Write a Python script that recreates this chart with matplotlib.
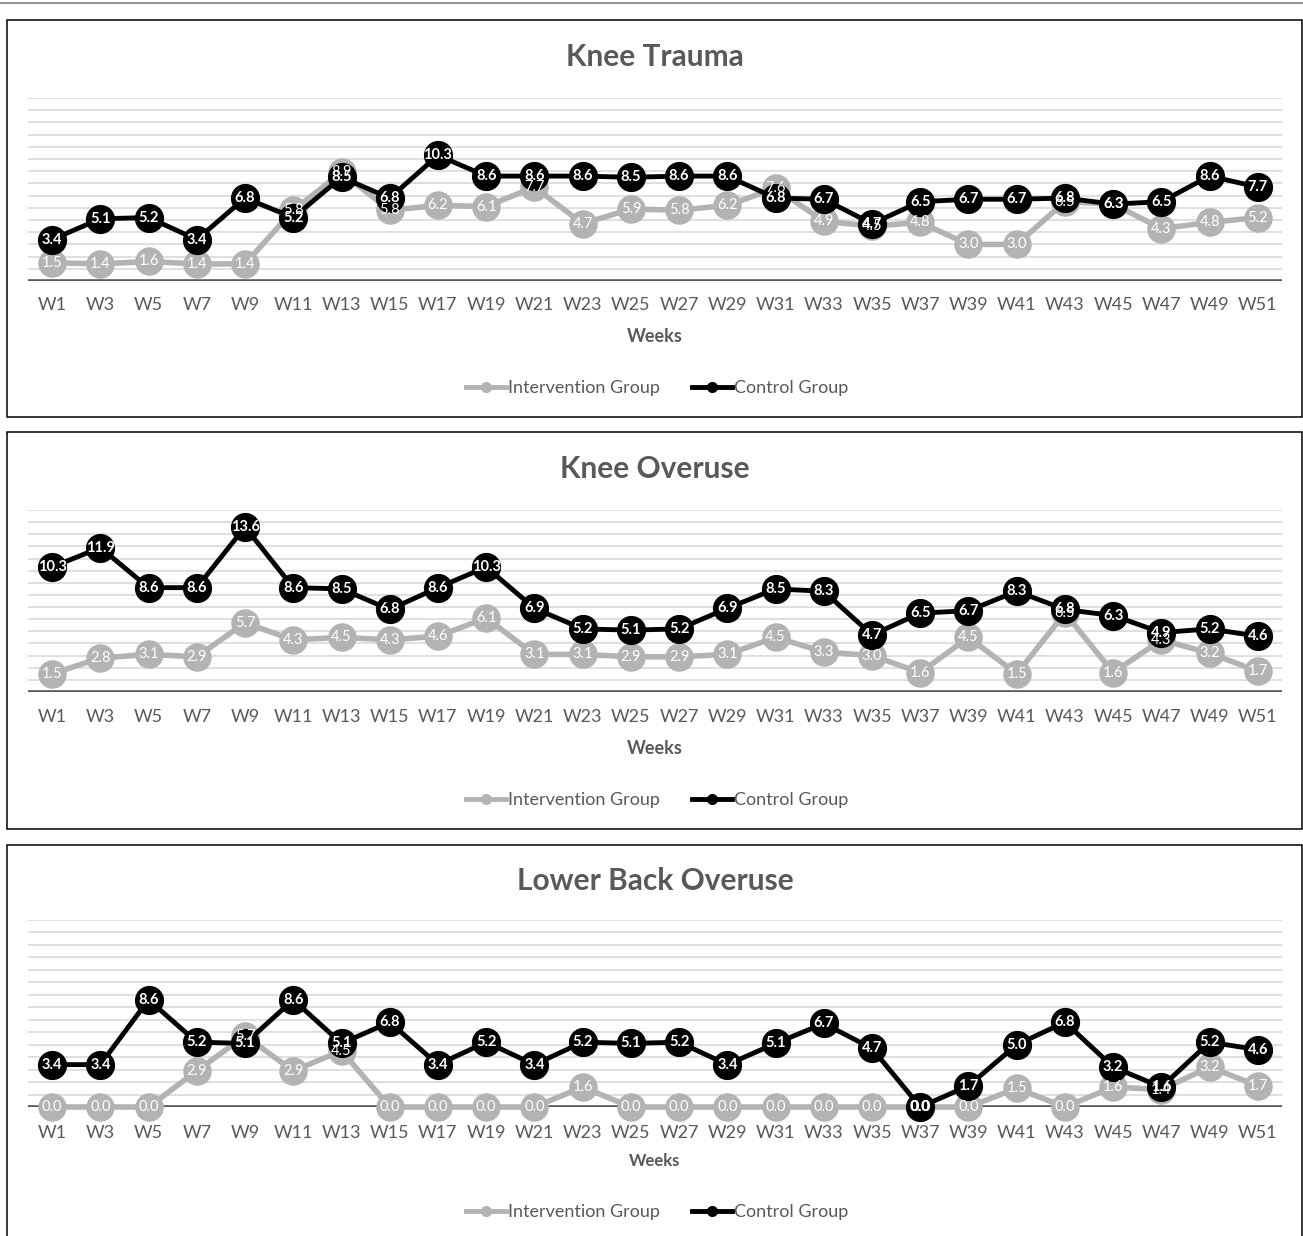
import matplotlib
matplotlib.use("Agg")
from matplotlib import pyplot as plt
from matplotlib.lines import Line2D
from matplotlib.patches import Rectangle

weeks = ["W%d" % w for w in range(1, 52, 2)]

trauma_intervention = [1.5, 1.4, 1.6, 1.4, 1.4, 5.8, 8.9, 5.8, 6.2, 6.1, 7.7, 4.7, 5.9,
                       5.8, 6.2, 7.6, 4.9, 4.5, 4.8, 3.0, 3.0, 6.5, 6.3, 4.3, 4.8, 5.2]
trauma_control = [3.4, 5.1, 5.2, 3.4, 6.8, 5.2, 8.5, 6.8, 10.3, 8.6, 8.6, 8.6, 8.5,
                  8.6, 8.6, 6.8, 6.7, 4.7, 6.5, 6.7, 6.7, 6.8, 6.3, 6.5, 8.6, 7.7]

overuse_intervention = [1.5, 2.8, 3.1, 2.9, 5.7, 4.3, 4.5, 4.3, 4.6, 6.1, 3.1, 3.1, 2.9,
                        2.9, 3.1, 4.5, 3.3, 3.0, 1.6, 4.5, 1.5, 6.5, 1.6, 4.3, 3.2, 1.7]
overuse_control = [10.3, 11.9, 8.6, 8.6, 13.6, 8.6, 8.5, 6.8, 8.6, 10.3, 6.9, 5.2, 5.1,
                   5.2, 6.9, 8.5, 8.3, 4.7, 6.5, 6.7, 8.3, 6.8, 6.3, 4.9, 5.2, 4.6]

back_intervention = [0.0, 0.0, 0.0, 2.9, 5.7, 2.9, 4.5, 0.0, 0.0, 0.0, 0.0, 1.6, 0.0,
                     0.0, 0.0, 0.0, 0.0, 0.0, 0.0, 0.0, 1.5, 0.0, 1.6, 1.4, 3.2, 1.7]
back_control = [3.4, 3.4, 8.6, 5.2, 5.1, 8.6, 5.1, 6.8, 3.4, 5.2, 3.4, 5.2, 5.1,
                5.2, 3.4, 5.1, 6.7, 4.7, 0.0, 1.7, 5.0, 6.8, 3.2, 1.6, 5.2, 4.6]

titles = ["Knee Trauma", "Knee Overuse", "Lower Back Overuse"]

W, H = 1303, 1236
GREY = "#b3b3b3"
TXT = "#595959"
plt.rcParams['font.family'] = ['Lato', 'DejaVu Sans']

fig = plt.figure(figsize=(W / 100, H / 100), dpi=100)


def fy(px):
    return 1 - px / H


# thin line across the very top
fig.add_artist(Line2D([0, 1], [fy(3), fy(3)], color="#7f7f7f", lw=1.2))

# box top, box bottom, axes top, axes bottom, title y, ticks y, weeks y, legend y
panels = [
    (20, 417, 98, 281, 57, 305, 336, 388),
    (432, 829, 510, 692, 469, 717, 748, 800),
    (845, 1245, 920, 1107, 881, 1133, 1161, 1212),
]

series = [
    (trauma_intervention, trauma_control),
    (overuse_intervention, overuse_control),
    (back_intervention, back_control),
]

for (btop, bbot, atop, abot, ty, ticky, wy, ly), title, (inter, ctrl) in zip(panels, titles, series):
    fig.add_artist(Rectangle((7 / W, fy(bbot)), 1295 / W, (bbot - btop) / H,
                             fill=False, edgecolor="black", lw=1.1))

    ax = fig.add_axes([28 / W, fy(abot), 1254 / W, (abot - atop) / H])
    x = list(range(len(weeks)))
    ax.set_xlim(-0.5, len(weeks) - 0.5)
    ax.set_ylim(0, 15)
    for g in range(1, 16):
        ax.axhline(g, color="#d9d9d9", lw=1.2, zorder=0)
    ax.axhline(0, color=TXT, lw=2.6, zorder=1)

    ax.plot(x, inter, color=GREY, lw=4, marker="o", ms=19.5, zorder=2, clip_on=False)
    ax.plot(x, ctrl, color="black", lw=3.5, marker="o", ms=20, zorder=3, clip_on=False)
    for i, v in enumerate(inter):
        ax.text(i, v, "%.1f" % v, ha="center", va="center", color="white",
                fontsize=10.5, zorder=5)
    for i, v in enumerate(ctrl):
        ax.text(i, v, "%.1f" % v, ha="center", va="center", color="white",
                fontsize=10.5, fontweight="bold", zorder=6)

    ax.axis("off")
    # week labels
    for i, wk in enumerate(weeks):
        xf = (28 + (i + 0.5) * 1254 / len(weeks)) / W
        fig.text(xf, fy(ticky), wk, ha="center", va="center", color=TXT, fontsize=13)

    fig.text(655 / W, fy(ty), title, ha="center", va="center", color=TXT,
             fontsize=21.5, fontweight="bold")
    fig.text(655 / W, fy(wy), "Weeks", ha="center", va="center", color=TXT,
             fontsize=13 if ticky < 1000 else 12, fontweight="bold")

    handles = [
        Line2D([], [], color=GREY, lw=3.5, marker="o", ms=7),
        Line2D([], [], color="black", lw=3.5, marker="o", ms=7),
    ]
    fig.legend(handles, ["Intervention Group", "Control Group"], loc="center",
               bbox_to_anchor=(657 / W, fy(ly)), ncol=2, frameon=False,
               fontsize=13, handlelength=2.2, handletextpad=0.1, columnspacing=1.8,
               labelcolor=TXT)

fig.savefig("out.png", dpi=100)
